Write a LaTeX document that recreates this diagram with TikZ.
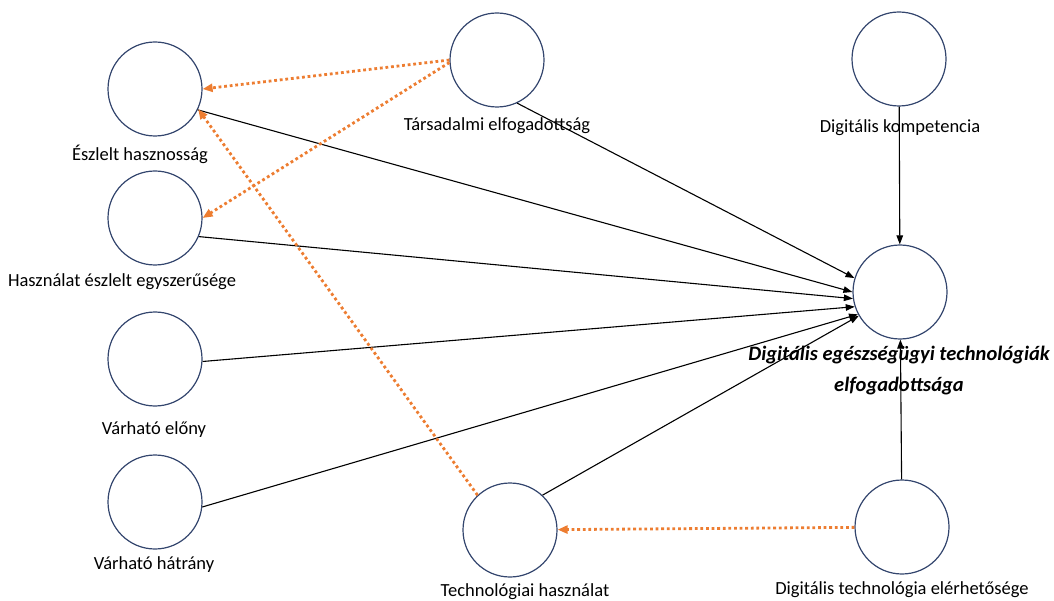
\documentclass[tikz,border=0pt]{standalone}
\usepackage{fontspec}
\setmainfont{Carlito}
\usepackage{tikz}
\usetikzlibrary{arrows.meta}
\definecolor{ringblue}{RGB}{52,70,110}
\definecolor{dotorange}{RGB}{237,125,49}

\begin{document}
\begin{tikzpicture}[
    x=1pt, y=-1pt,
    construct/.style={circle, draw=ringblue, line width=1.2pt, minimum size=94pt, inner sep=0pt},
    lbl/.style={font=\fontsize{18.5}{22}\selectfont, inner sep=0pt},
    outcome/.style={font=\fontsize{20.5}{31}\selectfont\bfseries\itshape, align=center, inner sep=0pt},
    effect/.style={-{Triangle[length=9pt, width=6.5pt]}, line width=1.1pt, black},
    moderate/.style={-{Triangle[length=10pt, width=8pt]}, line width=2.8pt, dotorange,
                     dash pattern=on 2.8pt off 2.8pt},
]
\useasboundingbox (0,0) rectangle (1054,601);

% Constructs
\node[construct] (eh)  at (155,89)  {};
\node[construct] (hes) at (155,218) {};
\node[construct] (ve)  at (155,359) {};
\node[construct] (vh)  at (155,502) {};
\node[construct] (ta)  at (497,60)  {};
\node[construct] (th)  at (510,530) {};
\node[construct] (dk)  at (899,59)  {};
\node[construct] (ac)  at (900,292) {};
\node[construct] (dte) at (902,527) {};

% Labels
\node[lbl] (eh-l)  at (140,154) {Észlelt hasznosság};
\node[lbl] (hes-l) at (122,282) {Használat észlelt egyszerűsége};
\node[lbl] (ve-l)  at (154,430) {Várható előny};
\node[lbl] (vh-l)  at (154,565) {Várható hátrány};
\node[lbl] (ta-l)  at (497,126) {Társadalmi elfogadottság};
\node[lbl] (th-l)  at (525,592) {Technológiai használat};
\node[lbl] (dk-l)  at (900,128) {Digitális kompetencia};
\node[lbl] (dte-l) at (902,590) {Digitális technológia elérhetősége};
\node[outcome] (ac-l) at (899,371) {Digitális egészségügyi technológiák\\elfogadottsága};

% Direct effects
\draw[effect] (eh.-26)  -- (ac.180);
\draw[effect] (ta.-65)  -- (ac.163);
\draw[effect] (hes.-23) -- (ac.188);
\draw[effect] (ve.-3)   -- (ac.198);
\draw[effect] (vh.-6)   -- (ac.208);
\draw[effect] (th.47)   -- (ac.210);
\draw[effect] (dk)      -- (ac);
\draw[effect] (dte)     -- (ac);

% Dotted links
\draw[moderate] (ta.180) -- (eh.0);
\draw[moderate] (ta.183) -- (hes.0);
\draw[moderate] (th.133) -- (eh.-25);
\draw[moderate] (dte)    -- (th);

\end{tikzpicture}
\end{document}
